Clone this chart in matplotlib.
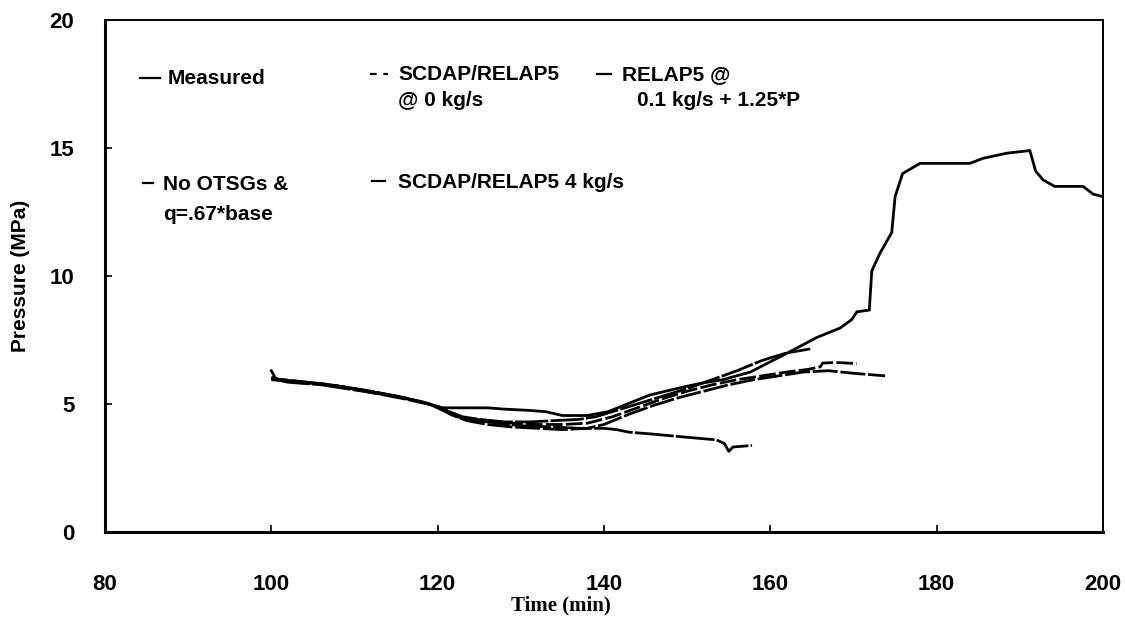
import matplotlib
matplotlib.use("Agg")
import matplotlib.pyplot as plt
from matplotlib.lines import Line2D

# ---------------- data ----------------
measured_t = [100, 100.6, 101.5, 103, 106, 109, 112, 115, 118, 120.6, 122, 126, 128,
              131, 133, 135, 138, 140.5, 142.8, 145.5, 149.5, 151.5, 152.4, 154.3,
              157.6, 161.5, 165.6, 168.4, 169.8, 170.4, 171.9, 172.2, 173.2, 174.6,
              175.0, 175.9, 178.0, 184.0, 185.6, 188.5, 191.2, 191.9, 192.8, 194.2,
              197.6, 198.8, 200]
measured_p = [6.3, 5.95, 5.9, 5.85, 5.8, 5.65, 5.47, 5.3, 5.08, 4.85, 4.85, 4.85, 4.8,
              4.75, 4.7, 4.55, 4.55, 4.7, 5.0, 5.35, 5.66, 5.8, 5.85, 5.95,
              6.25, 6.9, 7.6, 7.97, 8.3, 8.6, 8.67, 10.2, 10.9, 11.7,
              13.1, 14.0, 14.4, 14.4, 14.6, 14.8, 14.9, 14.1, 13.75, 13.5,
              13.5, 13.2, 13.1]

scdap0_t = [100, 103, 107, 111, 115, 119, 121, 123, 126, 129, 132, 135, 138, 141,
            144, 147, 150, 153, 156, 159, 162, 164.5, 166, 166.3, 168, 170.4]
scdap0_p = [6.0, 5.9, 5.75, 5.55, 5.3, 5.0, 4.7, 4.45, 4.35, 4.25, 4.2, 4.2, 4.25, 4.5,
            4.85, 5.2, 5.5, 5.75, 5.95, 6.1, 6.25, 6.35, 6.45, 6.6, 6.62, 6.58]

relap_t = [100, 101, 104, 108, 112, 116, 119, 121, 123, 125, 128, 131, 134, 137, 139,
           141, 144, 147, 150, 153, 156, 159, 162, 164.8]
relap_p = [6.05, 5.95, 5.85, 5.7, 5.5, 5.25, 5.0, 4.75, 4.5, 4.4, 4.3, 4.3, 4.35, 4.4, 4.5,
           4.7, 5.0, 5.3, 5.6, 5.95, 6.3, 6.7, 7.0, 7.15]

nootsg_t = [100, 104, 108, 112, 116, 119.5, 121.5, 123.5, 126, 129, 132, 135, 138, 140,
            143, 146, 149, 152, 155, 158, 161, 164, 167, 170, 173.8]
nootsg_p = [5.95, 5.85, 5.7, 5.45, 5.2, 4.95, 4.6, 4.35, 4.2, 4.1, 4.05, 4.0, 4.05, 4.2,
            4.6, 4.95, 5.25, 5.5, 5.75, 5.95, 6.1, 6.25, 6.3, 6.2, 6.1]

scdap4_t = [100, 102, 106, 110, 114, 118, 120.5, 122, 123.5, 126, 130, 134, 137, 140,
            141.5, 143, 146, 150, 153.5, 154.5, 155, 155.5, 157.8]
scdap4_p = [6.0, 5.85, 5.75, 5.55, 5.35, 5.1, 4.85, 4.55, 4.4, 4.3, 4.15, 4.1, 4.05, 4.05,
            4.0, 3.9, 3.82, 3.7, 3.6, 3.45, 3.15, 3.32, 3.38]

x_ticks = [80, 100, 120, 140, 160, 180, 200]
y_ticks = [0, 5, 10, 15, 20]

# ---------------- figure ----------------
W, H = 1125, 626
fig = plt.figure(figsize=(W / 100, H / 100), dpi=100)
ax = fig.add_axes([105 / W, 1 - 532 / H, (1103 - 105) / W, (532 - 20) / H])

tick_font = dict(family=["Liberation Sans", "DejaVu Sans"], size=16, weight="bold")
leg_font = dict(family=["Liberation Sans", "DejaVu Sans"], size=15, weight="bold")

lw = 2.0
ax.plot(measured_t, measured_p, color="black", lw=lw, solid_joinstyle="miter")
ax.plot(scdap0_t, scdap0_p, color="black", lw=lw, ls=(0, (6, 1.2)))
ax.plot(relap_t, relap_p, color="black", lw=lw, ls=(0, (12, 0.8)))
ax.plot(nootsg_t, nootsg_p, color="black", lw=lw, ls=(0, (9, 1)))
ax.plot(scdap4_t, scdap4_p, color="black", lw=lw, ls=(0, (14, 0.8)))

ax.set_xlim(80, 200)
ax.set_ylim(0, 20)
ax.set_xticks(x_ticks)
ax.set_yticks(y_ticks)
ax.set_xticklabels([str(v) for v in x_ticks], fontdict=tick_font)
ax.set_yticklabels([str(v) for v in y_ticks], fontdict=tick_font)
ax.tick_params(axis="both", direction="in", length=5, width=1.2, color="black")
ax.tick_params(axis="x", pad=30)
ax.tick_params(axis="y", pad=22)

for side in ["left", "bottom"]:
    ax.spines[side].set_linewidth(2.2)
for side in ["top", "right"]:
    ax.spines[side].set_linewidth(1.4)

ax.set_xlabel("Time (min)", family=["Liberation Serif", "DejaVu Serif"], size=15,
              weight="bold")
ax.xaxis.set_label_coords((561 - 105) / (1103 - 105), -(605 - 532) / (532 - 20))
ax.xaxis.label.set_va("center")
ax.set_ylabel("Pressure (MPa)", family=["Liberation Sans", "DejaVu Sans"], size=15,
              weight="bold", labelpad=14)

# ---------------- hand-placed legend (as in the reference) ----------------
def fx(px):
    return px / W

def fy(py):
    return 1 - py / H

def handle(x0, x1, y, ls):
    fig.add_artist(Line2D([fx(x0), fx(x1)], [fy(y), fy(y)], color="black", lw=1.6,
                          ls=ls, transform=fig.transFigure))

def label(x, y, s):
    fig.text(fx(x), fy(y), s, ha="left", va="center", **leg_font)

handle(140, 160, 78, "-")
label(168, 79, "Measured")

handle(370, 388, 74, (0, (3, 3)))
label(398, 75, "SCDAP/RELAP5")
label(398, 101, "@ 0 kg/s")

handle(597, 611, 74, "-")
label(622, 75, "RELAP5 @")
label(637, 101, "0.1 kg/s + 1.25*P")

handle(143, 153, 183, "-")
label(163, 184, "No OTSGs &")
label(163, 214, "q=.67*base")

handle(372, 385, 181, "-")
label(398, 182, "SCDAP/RELAP5 4 kg/s")

fig.savefig("out.png", dpi=100, facecolor="white")
